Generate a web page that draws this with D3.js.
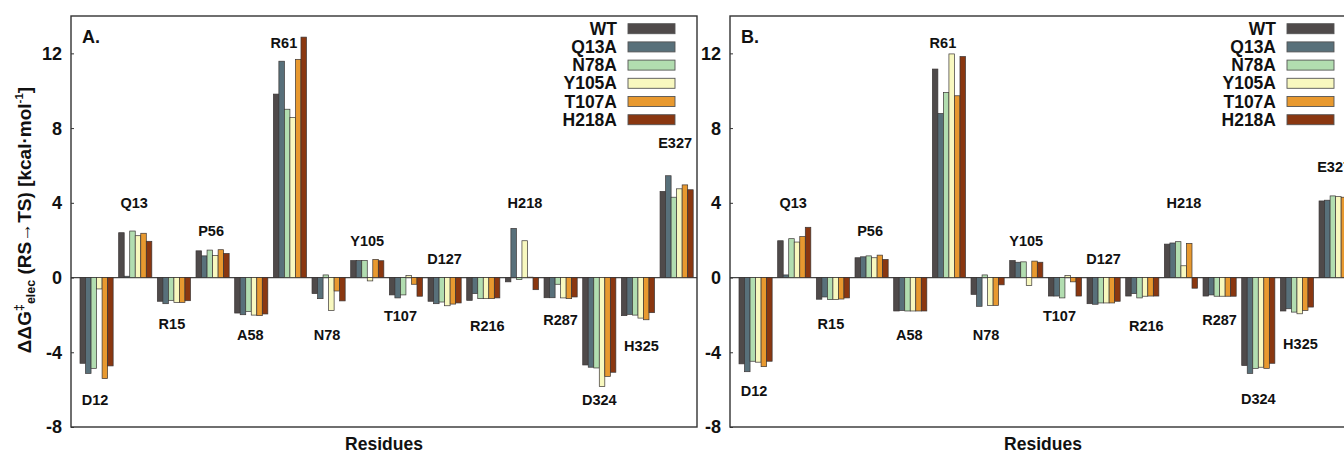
<!DOCTYPE html>
<html><head><meta charset="utf-8">
<script src="https://cdn.jsdelivr.net/npm/d3@7"></script>
<style>
html,body{margin:0;padding:0;background:#fff;overflow:hidden;}
svg{display:block;font-family:"Liberation Sans",Arial,Helvetica,sans-serif;}
</style></head>
<body>
<svg id="chart" width="1344" height="453"></svg>
<script>
// ---------- data ----------
const residues = ["D12","Q13","R15","P56","A58","R61","N78","Y105","T107","D127","R216","H218","R287","D324","H325","E327"];
const seriesNames = ["WT","Q13A","N78A","Y105A","T107A","H218A"];
const colors = ["#4f4a4a","#58707a","#b2ddb0","#f8f8bf","#e8992f","#8a3710"];
const yTicks = [-8,-4,0,4,8,12];

// Panel A values
const WT_A    = [-4.59, 2.40, -1.27, 1.43, -1.90,  9.82, -0.86,  0.91, -0.93, -1.27, -1.22, -0.23, -1.08, -4.68, -2.04, 4.61];
const Q13A_A  = [-5.13, 0.07, -1.40, 1.16, -1.99, 11.58, -1.13,  0.91, -1.09, -1.40, -0.86,  2.63, -1.08, -4.80, -1.97, 5.45];
const N78A_A  = [-4.86, 2.49, -1.22, 1.47, -1.81,  9.01,  0.14,  0.91, -0.93, -1.31, -1.13, -0.10, -0.36, -4.84, -2.01, 4.30];
const Y105A_A = [-0.61, 2.24, -1.33, 1.18, -2.01,  8.57, -1.76, -0.18,  0.11, -1.51, -1.13,  1.97, -1.09, -5.84, -2.17, 4.75];
const T107A_A = [-5.41, 2.37, -1.33, 1.49, -2.04, 11.68, -0.72,  0.97, -0.36, -1.42, -1.13,  0.02, -1.13, -5.29, -2.26, 4.96];
const H218A_A = [-4.73, 1.94, -1.24, 1.29, -1.95, 12.87, -1.25,  0.90, -1.00, -1.36, -1.09, -0.65, -1.04, -5.07, -1.88, 4.70];

// Panel B values
const WT_B    = [-4.62, 1.97, -1.16, 1.06, -1.79, 11.16, -0.90,  0.91, -0.99, -1.40, -0.99,  1.79, -0.99, -4.71, -1.79, 4.10];
const Q13A_B  = [-5.04, 0.14, -1.04, 1.11, -1.76,  8.78, -1.54,  0.82, -0.99, -1.43, -0.86,  1.85, -0.93, -5.13, -1.67, 4.14];
const N78A_B  = [-4.48, 2.08, -1.18, 1.16, -1.79,  9.91,  0.14,  0.84, -1.09, -1.36, -1.09,  1.92, -1.00, -4.86, -1.85, 4.37];
const Y105A_B = [-4.53, 1.90, -1.18, 1.06, -1.79, 11.97, -1.49, -0.43,  0.11, -1.36, -1.00,  0.63, -1.00, -4.80, -1.94, 4.33];
const T107A_B = [-4.77, 2.19, -1.15, 1.20, -1.79,  9.73, -1.49,  0.88, -0.23, -1.36, -0.99,  1.83, -1.00, -4.86, -1.76, 4.30];
const H218A_B = [-4.48, 2.69, -1.09, 0.97, -1.79, 11.83, -0.39,  0.82, -0.99, -1.27, -0.99, -0.57, -1.00, -4.59, -1.58, 4.20];

// Residue label anchor values (data units)
const labelValA = [-6.55, 4.0, -2.5, 2.5, -3.05, 12.55, -3.05, 1.95, -2.05, 1.0, -2.6, 4.0, -2.25, -6.55, -3.65, 7.2];
const labelValB = [-6.05, 4.0, -2.5, 2.5, -3.05, 12.55, -3.05, 1.95, -2.05, 1.0, -2.6, 4.0, -2.25, -6.5, -3.55, 5.95];

const panels = [
  {name:"A.", left:71, values:[WT_A,Q13A_A,N78A_A,Y105A_A,T107A_A,H218A_A], labels:labelValA, yTitle:true},
  {name:"B.", left:730, values:[WT_B,Q13A_B,N78A_B,Y105A_B,T107A_B,H218A_B], labels:labelValB, yTitle:false}
];

// ---------- layout ----------
const W = 626, plotTop = 16, plotBottom = 427;
const labelDx = [-1.5,-1,-2,-1.5,-1,-6,-1.5,0,-5.5,0,4,3,0,0,3.5,-1.5];
const svg = d3.select("#chart");
const y = d3.scaleLinear().domain([-8,14]).range([plotBottom, plotTop]);

panels.forEach(p => {
  const g = svg.append("g");
  const L = p.left, R = p.left + W;
  const x = d3.scaleBand().domain(residues).range([L+9, L+9+613.2]).paddingInner(1/7).paddingOuter(0);
  const xs = d3.scaleBand().domain(seriesNames).range([0, x.bandwidth()]).padding(0);

  // zero line
  g.append("line").attr("x1",L).attr("x2",R).attr("y1",y(0)).attr("y2",y(0))
    .attr("stroke","#444").attr("stroke-width",1.2);

  // bars
  seriesNames.forEach((s, si) => {
    g.append("g").selectAll("rect").data(residues).join("rect")
      .attr("x", (r) => x(r) + xs(s))
      .attr("width", xs.bandwidth())
      .attr("y", (r,i) => y(Math.max(0, p.values[si][i])))
      .attr("height", (r,i) => Math.abs(y(p.values[si][i]) - y(0)))
      .attr("fill", colors[si])
      .attr("stroke", "#3a3535").attr("stroke-width", 0.7);
  });

  // frame
  g.append("rect").attr("x",L).attr("y",plotTop).attr("width",W).attr("height",plotBottom-plotTop)
    .attr("fill","none").attr("stroke","#333").attr("stroke-width",1.4);

  // y axis ticks (inward) & labels
  const ax = g.append("g").attr("transform",`translate(${L},0)`)
    .call(d3.axisRight(y).tickValues(yTicks).tickSize(3).tickFormat(""));
  ax.select(".domain").remove();
  ax.selectAll("line").attr("stroke","#333");
  g.append("g").selectAll("text").data(yTicks).join("text")
    .attr("x", L-9).attr("y", d => y(d)).attr("dy","0.36em")
    .attr("text-anchor","end").attr("font-size",18).attr("font-weight","bold")
    .attr("fill","#111").text(d => d);

  // residue labels
  g.append("g").selectAll("text").data(residues).join("text")
    .attr("x", (r,i) => x(r) + x.bandwidth()/2 + labelDx[i])
    .attr("y", (r,i) => y(p.labels[i])).attr("dy","0.36em")
    .attr("text-anchor","middle").attr("font-size",14.5).attr("font-weight","bold")
    .attr("fill","#111").text(r => r);

  // panel letter
  g.append("text").attr("x",L+11).attr("y",43).attr("font-size",18).attr("font-weight","bold")
    .attr("fill","#111").text(p.name);

  // legend
  const lg = g.append("g");
  seriesNames.forEach((s, si) => {
    const ty = 23.7 + si*18.2;
    lg.append("rect").attr("x",L+557).attr("y",ty).attr("width",47).attr("height",10)
      .attr("fill",colors[si]).attr("stroke","#555").attr("stroke-width",0.9);
    lg.append("text").attr("x",L+546).attr("y",ty+11).attr("text-anchor","end")
      .attr("font-size",17.5).attr("font-weight","bold").attr("fill","#111").text(s);
  });

  // x title
  g.append("text").attr("x",(L+R)/2).attr("y",450).attr("text-anchor","middle")
    .attr("font-size",17.5).attr("font-weight","bold").attr("fill","#111").text("Residues");

  // y title
  if (p.yTitle) {
    const t = g.append("text").attr("transform","translate(31,220) rotate(-90)")
      .attr("text-anchor","middle").attr("font-size",19).attr("font-weight","bold").attr("fill","#111");
    t.append("tspan").text("ΔΔG");
    t.append("tspan").attr("font-size",12.5).attr("dy",-8).text("‡");
    t.append("tspan").attr("font-size",12.5).attr("dy",12).text("elec");
    t.append("tspan").attr("dy",-4).text(" (RS→TS)  [kcal·mol");
    t.append("tspan").attr("font-size",11.5).attr("dy",-8).text("-1");
    t.append("tspan").attr("dy",8).text("]");
  }
});
</script>
</body></html>
